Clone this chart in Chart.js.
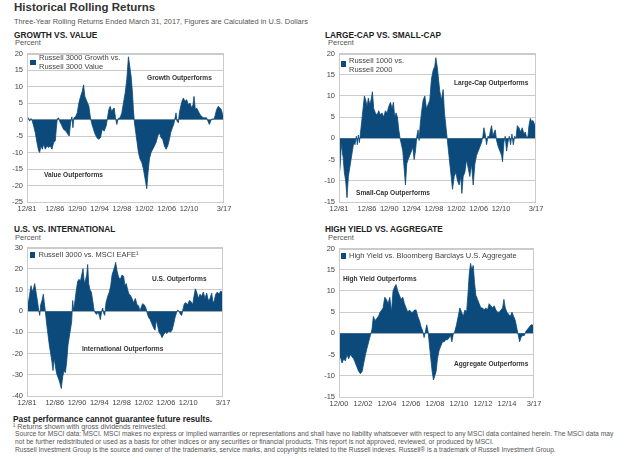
<!DOCTYPE html>
<html>
<head>
<meta charset="utf-8">
<script src="https://cdn.jsdelivr.net/npm/chart.js@4.4.0/dist/chart.umd.min.js"></script>
<style>
body { margin: 0; background: #fff; font-family: 'Liberation Sans', Arial, sans-serif; }
#page { position: relative; width: 628px; height: 459px; overflow: hidden; }
.t { position: absolute; white-space: nowrap; line-height: 1; transform: translateY(-50%); }
canvas { position: absolute; }
.title { font-weight: bold; font-size: 11.5px; color: #333; }
.sub { font-size: 7.4px; color: #555; }
.head { font-family: 'Liberation Sans Narrow', 'Liberation Sans', Arial, sans-serif; font-weight: bold; font-size: 8.3px; color: #222; }
.unit { font-size: 7.5px; color: #555; }
.leg { font-size: 7.5px; color: #444; line-height: 8.5px; }
.sq { position: absolute; width: 5.5px; height: 5.5px; background: #0b4a7b; }
.note { font-weight: bold; font-size: 6.6px; color: #333; }
.foot { font-size: 6.7px; color: #555; }
.warn { font-weight: bold; font-size: 8.3px; color: #222; }
</style>
</head>
<body>
<div id="page">
  <div class="t title" style="left:14px;top:7.5px">Historical Rolling Returns</div>
  <div class="t sub" style="left:14px;top:21.7px">Three-Year Rolling Returns Ended March 31, 2017, Figures are Calculated in U.S. Dollars</div>

  <div class="t head" style="left:14px;top:34.5px">GROWTH VS. VALUE</div>
  <div class="t unit" style="left:15px;top:43.4px">Percent</div>
  <div class="t head" style="left:325px;top:34.5px">LARGE-CAP VS. SMALL-CAP</div>
  <div class="t unit" style="left:328px;top:43.4px">Percent</div>
  <div class="t head" style="left:14px;top:229.2px">U.S. VS. INTERNATIONAL</div>
  <div class="t unit" style="left:15px;top:238.3px">Percent</div>
  <div class="t head" style="left:325px;top:229.2px">HIGH YIELD VS. AGGREGATE</div>
  <div class="t unit" style="left:328px;top:238.3px">Percent</div>

  <canvas id="growthChart" width="240" height="173" style="left:0px;top:45px"></canvas>
  <canvas id="capChart" width="240" height="173" style="left:312px;top:45px"></canvas>
  <canvas id="intlChart" width="240" height="173" style="left:0px;top:239px"></canvas>
  <canvas id="bondChart" width="240" height="173" style="left:312px;top:240px"></canvas>

  <div class="sq" style="left:30px;top:59.5px"></div>
  <div class="t leg" style="left:39px;top:62.3px">Russell 3000 Growth vs.<br>Russell 3000 Value</div>
  <div class="sq" style="left:340.5px;top:61px"></div>
  <div class="t leg" style="left:349px;top:65px">Russell 1000 vs.<br>Russell 2000</div>
  <div class="sq" style="left:29.5px;top:252.3px"></div>
  <div class="t leg" style="left:38.5px;top:255px">Russell 3000 vs. MSCI EAFE¹</div>
  <div class="sq" style="left:340.5px;top:253px"></div>
  <div class="t leg" style="left:349px;top:255.7px">High Yield vs. Bloomberg Barclays U.S. Aggregate</div>

  <div class="t note" style="left:147px;top:78px">Growth Outperforms</div>
  <div class="t note" style="left:44px;top:175px">Value Outperforms</div>
  <div class="t note" style="left:454px;top:83px">Large-Cap Outperforms</div>
  <div class="t note" style="left:356px;top:193px">Small-Cap Outperforms</div>
  <div class="t note" style="left:152px;top:279px">U.S. Outperforms</div>
  <div class="t note" style="left:82px;top:349px">International Outperforms</div>
  <div class="t note" style="left:343px;top:279px">High Yield Outperforms</div>
  <div class="t note" style="left:454px;top:364px">Aggregate Outperforms</div>

  <div class="t warn" style="left:13px;top:419px">Past performance cannot guarantee future results.</div>
  <div class="t foot" style="left:13px;top:427.7px;font-size:7.1px">¹ Returns shown with gross dividends reinvested.</div>
  <div class="t foot" style="left:15px;top:434.3px">Source for MSCI data: MSCI. MSCI makes no express or implied warranties or representations and shall have no liability whatsoever with respect to any MSCI data contained herein. The MSCI data may</div>
  <div class="t foot" style="left:15px;top:441.7px">not be further redistributed or used as a basis for other indices or any securities or financial products. This report is not approved, reviewed, or produced by MSCI.</div>
  <div class="t foot" style="left:15px;top:450px;font-size:6.6px">Russell Investment Group is the source and owner of the trademarks, service marks, and copyrights related to the Russell indexes. Russell® is a trademark of Russell Investment Group.</div>
</div>

<script>
// три-летняя скользящая доходность, разница между индексами (%), даты в долях года
const growthDates = [1981.92, 1982.16, 1982.39, 1982.63, 1982.87, 1983.11, 1983.4, 1983.7, 1984.0, 1984.18, 1984.42, 1984.66, 1984.89, 1985.19, 1985.49, 1985.79, 1986.08, 1986.38, 1986.68, 1986.98, 1987.15, 1987.33, 1987.57, 1987.75, 1988.05, 1988.46, 1988.88, 1989.24, 1989.48, 1989.71, 1989.95, 1990.13, 1990.31, 1990.61, 1990.9, 1991.2, 1991.5, 1991.8, 1992.04, 1992.27, 1992.51, 1992.75, 1992.99, 1993.23, 1993.46, 1993.82, 1994.12, 1994.42, 1994.77, 1995.07, 1995.37, 1995.73, 1996.08, 1996.32, 1996.56, 1996.8, 1997.04, 1997.27, 1997.51, 1997.75, 1997.99, 1998.23, 1998.58, 1998.88, 1999.18, 1999.48, 1999.77, 2000.07, 2000.31, 2000.55, 2000.79, 2000.96, 2001.14, 2001.38, 2001.62, 2001.86, 2002.15, 2002.45, 2002.75, 2003.05, 2003.35, 2003.58, 2003.82, 2004.12, 2004.42, 2004.71, 2005.01, 2005.31, 2005.61, 2005.9, 2006.2, 2006.5, 2006.8, 2007.1, 2007.4, 2007.63, 2007.93, 2008.17, 2008.41, 2008.58, 2008.76, 2009.0, 2009.18, 2009.42, 2009.65, 2009.89, 2010.19, 2010.49, 2010.79, 2011.08, 2011.38, 2011.62, 2011.8, 2012.04, 2012.27, 2012.57, 2012.87, 2013.17, 2013.46, 2013.76, 2014.06, 2014.3, 2014.54, 2014.77, 2015.01, 2015.31, 2015.55, 2015.84, 2016.14, 2016.44, 2016.68, 2016.92, 2017.17];
const growthValues = [0.8, 0.5, -0.5, 0.3, -0.5, -2, -4, -7, -9.5, -10, -8, -9, -7.5, -9, -8, -8.5, -8, -9, -7, -6.5, -3, 0.2, 0.5, -0.5, -1.5, -3, -3.5, -4.5, -5, -1, 0.8, -2.5, 0.5, 0.8, 2, 5, 7, 8.5, 10.5, 7, 6, 5, 4, 1, -1, -3, -4.5, -5.5, -6, -5.5, -3, -3.5, -2, 0.5, 3, 4, 2.5, 3, 3.5, 0.5, -1.5, 0.3, 0.5, 2, 5, 8, 12, 19, 16, 13, 8, 3, -1, -4, -7, -10, -12, -13, -15, -18, -21, -16, -12, -10, -9, -8, -7, -5, -4, -5.5, -6, -8, -9, -8, -6, -4, -2.5, -1.5, 0.5, 2, -0.5, -1, 2, 4, 5.5, 6.5, 5.5, 6, 4.5, 5, 3.5, 4.5, 7, 3, 3.5, 2.5, 1.5, 1, 0.5, 0.5, 0.5, -0.5, -1.5, -0.5, 0.2, 0, 1, 3, 4, 3.5, 3, 1.5, 0.5];

const capDates = [1981.92, 1982.1, 1982.28, 1982.46, 1982.63, 1982.87, 1983.11, 1983.35, 1983.59, 1983.83, 1984.07, 1984.31, 1984.55, 1984.78, 1985.02, 1985.2, 1985.38, 1985.56, 1985.74, 1985.98, 1986.22, 1986.46, 1986.7, 1986.93, 1987.17, 1987.41, 1987.65, 1987.89, 1988.13, 1988.43, 1988.73, 1989.03, 1989.32, 1989.62, 1989.92, 1990.22, 1990.52, 1990.82, 1991.12, 1991.42, 1991.65, 1991.89, 1992.13, 1992.37, 1992.61, 1992.85, 1993.09, 1993.33, 1993.57, 1993.81, 1994.04, 1994.28, 1994.58, 1994.88, 1995.12, 1995.36, 1995.6, 1995.84, 1996.07, 1996.25, 1996.43, 1996.67, 1996.97, 1997.27, 1997.57, 1997.86, 1998.16, 1998.46, 1998.76, 1999.06, 1999.24, 1999.48, 1999.72, 1999.96, 2000.26, 2000.55, 2000.79, 2001.03, 2001.27, 2001.51, 2001.75, 2001.99, 2002.23, 2002.53, 2002.83, 2003.12, 2003.42, 2003.72, 2003.9, 2004.14, 2004.44, 2004.74, 2005.03, 2005.33, 2005.63, 2005.93, 2006.23, 2006.53, 2006.83, 2007.13, 2007.42, 2007.66, 2007.84, 2008.08, 2008.32, 2008.56, 2008.8, 2009.04, 2009.22, 2009.46, 2009.7, 2009.87, 2010.11, 2010.41, 2010.71, 2011.0, 2011.18, 2011.42, 2011.66, 2011.9, 2012.14, 2012.38, 2012.62, 2012.86, 2013.1, 2013.34, 2013.58, 2013.82, 2014.12, 2014.41, 2014.71, 2015.01, 2015.25, 2015.49, 2015.73, 2015.91, 2016.15, 2016.38, 2016.62, 2016.86, 2017.17];
const capValues = [-9, -7, -3, -1, -4, -8, -10, -14, -9, -7, -5, -3, -1, -1.5, 0.5, -1.5, 0.8, -1, 1, 4, 7, 10, 9, 7.5, 9.5, 8, 9, 11, 7, 6, 5.5, 6.5, 5.5, 6, 5, 6.5, 6, 7.5, 8.5, 7, 8.5, 5, 6, 5, 2, 0, -1.5, -3, -7, -11, -6, -5, -4, -3, -2, -5, -3, 0.5, 2, -0.5, 3, 6, 9, 10, 7, 8, 9, 14, 16, 17, 19, 17, 14, 11, 9, 11.5, 6, 3, 0, -3, -6, -9, -12, -9, -8, -10, -11, -9, -13, -9, -8, -5, -7, -9, -6, -11, -6, -4, -3, -2, -1, 0.5, 2.5, 1, -1.5, 0.5, 0.3, 2, 3, 0.5, 1.5, 2, -0.5, -2, -3, -4, -5.5, -1, 0.5, -3, -1, 0.5, -1.5, 1, -1.5, 0.5, 0, 3, 2.5, 1.5, 2.5, 1, 1.5, 0.2, 0.5, 3, 4.7, 4, 4.2, 3.5, 2.5];

const intlDates = [1981.92, 1982.16, 1982.4, 1982.64, 1982.88, 1983.12, 1983.3, 1983.54, 1983.78, 1984.02, 1984.2, 1984.38, 1984.61, 1984.85, 1985.03, 1985.21, 1985.45, 1985.69, 1985.93, 1986.17, 1986.41, 1986.59, 1986.83, 1987.07, 1987.31, 1987.61, 1987.85, 1988.09, 1988.33, 1988.57, 1988.81, 1989.05, 1989.29, 1989.53, 1989.77, 1989.95, 1990.13, 1990.31, 1990.55, 1990.79, 1991.03, 1991.27, 1991.51, 1991.75, 1991.99, 1992.23, 1992.47, 1992.65, 1992.83, 1993.01, 1993.25, 1993.49, 1993.73, 1993.97, 1994.21, 1994.45, 1994.69, 1994.93, 1995.11, 1995.35, 1995.53, 1995.71, 1995.89, 1996.13, 1996.43, 1996.73, 1996.97, 1997.21, 1997.45, 1997.69, 1997.86, 1998.1, 1998.4, 1998.7, 1998.99, 1999.29, 1999.53, 1999.77, 2000.02, 2000.26, 2000.5, 2000.8, 2001.1, 2001.4, 2001.7, 2001.99, 2002.23, 2002.47, 2002.71, 2003.01, 2003.3, 2003.54, 2003.78, 2004.08, 2004.38, 2004.7, 2004.94, 2005.18, 2005.42, 2005.66, 2005.96, 2006.2, 2006.5, 2006.8, 2007.1, 2007.4, 2007.7, 2008.0, 2008.3, 2008.54, 2008.78, 2009.02, 2009.26, 2009.5, 2009.74, 2009.98, 2010.21, 2010.51, 2010.81, 2011.11, 2011.41, 2011.71, 2011.95, 2012.19, 2012.43, 2012.73, 2013.03, 2013.33, 2013.63, 2013.93, 2014.23, 2014.53, 2014.83, 2015.13, 2015.37, 2015.61, 2015.85, 2016.15, 2016.45, 2016.75, 2016.99, 2017.17];
const intlValues = [5, 4, 8, 12, 9, 11, 13, 9, 5, 0.5, -2, 3, 5, 8, 4, 0, -6, -11, -16, -20, -24, -28, -22, -27, -30, -32, -34, -36.5, -31, -28, -29, -24, -16, -12, -8, -5, 5, 0.5, 5, 10, 14, 15, 14, 17, 20, 13, 15, 17, 22, 13, 10, 9, 5, 0.5, -1, -1.5, -0.5, -2, -4, 0, 1.5, -1, -2, 4, 7, 9, 12, 17, 19, 21, 23, 19, 16, 15, 17, 16.5, 12, 13, 10, 8, 7.5, 6, 4, 6, 3, 2.5, 0, 2, 3.5, 3, 1.5, -1, -3, -4, -6, -8, -9, -4, -7, -10, -11, -12.5, -11, -10, -10.5, -9.5, -10, -9, -6, -3, -1, 0.5, 0, -1.5, -2, 1, 3.5, 4, 3, 5, 4.5, 3, 7, 10.5, 9, 6, 8, 7, 9, 6, 8.5, 5, 6, 8.5, 4, 5, 8, 9, 8, 9.5, 9, 9.5];

const bondDates = [2000.92, 2001.03, 2001.17, 2001.31, 2001.45, 2001.58, 2001.72, 2001.86, 2002.0, 2002.14, 2002.28, 2002.42, 2002.56, 2002.7, 2002.84, 2002.98, 2003.12, 2003.25, 2003.39, 2003.53, 2003.67, 2003.78, 2003.92, 2004.06, 2004.2, 2004.34, 2004.48, 2004.59, 2004.73, 2004.87, 2005.01, 2005.15, 2005.29, 2005.42, 2005.56, 2005.67, 2005.81, 2005.95, 2006.09, 2006.23, 2006.37, 2006.51, 2006.65, 2006.79, 2006.93, 2007.07, 2007.21, 2007.34, 2007.48, 2007.62, 2007.76, 2007.9, 2008.01, 2008.12, 2008.23, 2008.35, 2008.46, 2008.57, 2008.68, 2008.79, 2008.9, 2009.01, 2009.12, 2009.26, 2009.4, 2009.54, 2009.68, 2009.82, 2009.96, 2010.1, 2010.21, 2010.32, 2010.43, 2010.57, 2010.71, 2010.85, 2010.99, 2011.13, 2011.27, 2011.41, 2011.55, 2011.66, 2011.77, 2011.88, 2011.99, 2012.1, 2012.21, 2012.32, 2012.46, 2012.6, 2012.74, 2012.88, 2013.01, 2013.15, 2013.29, 2013.43, 2013.57, 2013.71, 2013.85, 2013.99, 2014.13, 2014.27, 2014.41, 2014.55, 2014.66, 2014.77, 2014.91, 2015.05, 2015.19, 2015.33, 2015.47, 2015.61, 2015.75, 2015.86, 2015.97, 2016.08, 2016.22, 2016.36, 2016.5, 2016.64, 2016.78, 2016.92, 2017.03, 2017.17];
const bondValues = [-6, -5.5, -7, -6, -6.5, -5, -6, -5, -5.5, -6, -7, -8, -9, -9.5, -9, -7, -5, -3.5, -2, -0.5, 1, 4, 3, 3.5, 4, 5, 5.5, 6, 8.5, 8, 7, 8.5, 5, 10, 11, 11.5, 10, 9, 8, 8.5, 7, 6, 5, 5.5, 5, 5, 5.5, 5.5, 4, 3, 1.5, 0.5, -1, 0.5, 2, 0.3, -3, -6, -9, -11, -10, -9, -6, -4, -3, -2, -2, -1.5, -1.5, -1, -0.5, -2, -0.3, 0.5, 2, 4, 6, 5, 4, 5.5, 5, 9, 14, 16.5, 15, 16, 12, 9, 8, 7, 6, 6, 5.5, 6, 5.5, 7, 6.5, 6, 6.5, 5.5, 5, 5, 5.5, 6, 8, 6, 5, 4.5, 4, 5, 4, 3, 1, -0.5, -2, -1, -0.5, -0.5, 0.5, 1, 1.5, 2, 2, 1.5];

const longTickLabels = ['12/81', '12/86', '12/90', '12/94', '12/98', '12/02', '12/06', '12/10', '3/17'];
const bondTickLabels = ['12/00', '12/02', '12/04', '12/06', '12/08', '12/10', '12/12', '12/14', '3/17'];

const NAVY = '#0b4a7b';
const LINE_GRAY = '#cbcbcb';
const tickFont = { family: "'Liberation Sans', Arial, sans-serif", size: 7.5 };

function labelToYear(label) {
    const [m, y] = label.split('/').map(Number);
    const year = y > 50 ? 1900 + y : 2000 + y;
    return year + (m - 1) / 12;
}

// рамка вокруг области графика
const plotBox = {
    id: 'plotBox',
    afterDraw(chart) {
        const { ctx, chartArea: a } = chart;
        ctx.save();
        ctx.strokeStyle = LINE_GRAY;
        ctx.lineWidth = 1;
        ctx.strokeRect(Math.round(a.left) + 0.5, Math.round(a.top) + 0.5, Math.round(a.width) - 1, Math.round(a.height) - 1);
        ctx.restore();
    }
};

function createChart(id, dates, values, tickLabels, yMin, yMax, yStep, padRight) {
    const tickValues = tickLabels.map(labelToYear);
    return new Chart(document.getElementById(id), {
        type: 'line',
        data: {
            datasets: [{
                data: dates.map((d, i) => ({ x: d, y: values[i] })),
                fill: 'origin',
                backgroundColor: NAVY,
                borderColor: NAVY,
                borderWidth: 0.8,
                pointRadius: 0,
                tension: 0,
            }],
        },
        options: {
            responsive: false,
            animation: false,
            events: [],
            layout: { padding: { top: 3, right: padRight, left: 0, bottom: 0 } },
            plugins: { legend: { display: false }, tooltip: { enabled: false } },
            scales: {
                x: {
                    type: 'linear',
                    min: tickValues[0],
                    max: tickValues[tickValues.length - 1],
                    afterBuildTicks: s => { s.ticks = tickValues.map(v => ({ value: v })); },
                    afterFit: s => { s.height = 16; },
                    grid: { display: false, drawTicks: false },
                    border: { display: false },
                    ticks: {
                        autoSkip: false,
                        maxRotation: 0,
                        padding: 2,
                        color: '#444',
                        font: tickFont,
                        callback: (v, i) => tickLabels[i],
                    },
                },
                y: {
                    min: yMin,
                    max: yMax,
                    afterFit: s => { s.width = 27; },
                    grid: { color: LINE_GRAY, lineWidth: 1, drawTicks: false },
                    border: { display: false },
                    ticks: { stepSize: yStep, padding: 4, color: '#444', font: tickFont },
                },
            },
        },
        plugins: [plotBox],
    });
}

createChart('growthChart', growthDates, growthValues, longTickLabels, -25, 20, 5, 16);
createChart('capChart', capDates, capValues, longTickLabels, -15, 20, 5, 16);
createChart('intlChart', intlDates, intlValues, longTickLabels, -40, 30, 10, 17);
createChart('bondChart', bondDates, bondValues, bondTickLabels, -15, 20, 5, 18);
</script>
</body>
</html>
